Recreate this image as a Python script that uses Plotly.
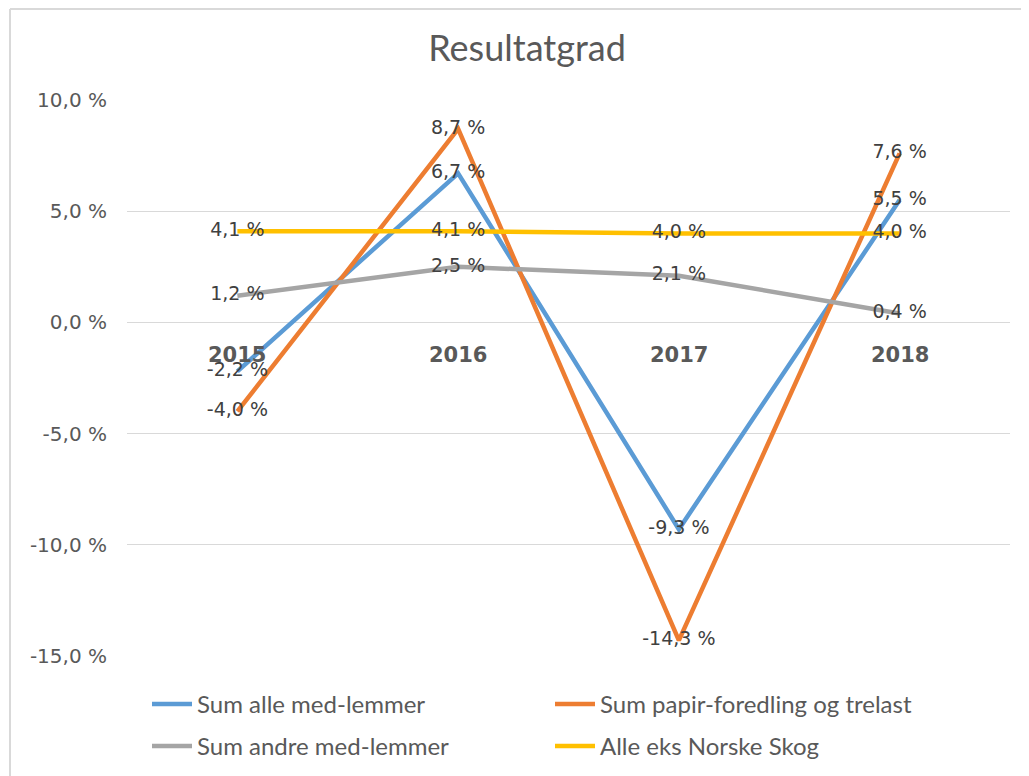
import plotly.graph_objects as go

years = ["2015", "2016", "2017", "2018"]
sum_alle = [-2.2, 6.7, -9.3, 5.5]
sum_papir = [-4.0, 8.7, -14.3, 7.6]
sum_andre = [1.2, 2.5, 2.1, 0.4]
alle_eks = [4.1, 4.1, 4.0, 4.0]
y_ticks = [-15, -10, -5, 0, 5, 10]
y_ticktext = ["-15,0 %", "-10,0 %", "-5,0 %", "0,0 %", "5,0 %", "10,0 %"]

series = [
    ("Sum alle med-lemmer", sum_alle, "#5B9BD5", "legend"),
    ("Sum papir-foredling og trelast", sum_papir, "#ED7D31", "legend"),
    ("Sum andre med-lemmer", sum_andre, "#A5A5A5", "legend2"),
    ("Alle eks Norske Skog", alle_eks, "#FFC000", "legend2"),
]

# page is rendered with an 8px body offset; figure coords = page coords - 8
W, H = 1029, 776
L, R, T, B = 119, 27, 92, 128
pw, ph = W - L - R, H - T - B

fig = go.Figure()
for name, vals, col, lg in series:
    fig.add_trace(go.Scatter(x=years, y=vals, mode="lines", name=name, legend=lg,
                             line=dict(color=col, width=4.5)))
for name, vals, col, lg in series:
    labels = [("%.1f %%" % v).replace(".", ",") for v in vals]
    fig.add_trace(go.Scatter(x=years, y=vals, mode="text", showlegend=False,
                             text=labels, textposition="middle center",
                             textfont=dict(family="DejaVu Sans", size=19, color="#404040"),
                             hoverinfo="skip"))

for i, yr in enumerate(years):
    fig.add_annotation(x=i, y=0, xref="x", yref="y", text="<b>" + yr + "</b>",
                       showarrow=False, yanchor="middle", yshift=-33,
                       font=dict(family="DejaVu Sans", size=21, color="#595959"))

# outer chart frame (left and top edges)
fy_top = 1 + (T - 1) / ph
fy_bot = -(H + 20 - T - ph) / ph
fx_left = (2 - L) / pw
fig.add_shape(type="line", xref="paper", yref="paper",
              x0=fx_left, x1=fx_left, y0=fy_bot, y1=fy_top,
              line=dict(color="#D9D9D9", width=2))
fig.add_shape(type="line", xref="paper", yref="paper",
              x0=fx_left, x1=(W + 20 - L) / pw, y0=fy_top, y1=fy_top,
              line=dict(color="#D9D9D9", width=2))

leg_common = dict(orientation="h", xanchor="left", yanchor="top",
                  entrywidth=348, entrywidthmode="pixels", traceorder="normal",
                  font=dict(family="Lato", size=24, color="#595959"),
                  itemwidth=40, bgcolor="rgba(0,0,0,0)")

fig.update_layout(
    width=W, height=H,
    margin=dict(l=L, r=R, t=T, b=B, autoexpand=False),
    paper_bgcolor="white", plot_bgcolor="white",
    title=dict(text="Resultatgrad", x=519 / W, xanchor="center", y=1 - 40 / H, yanchor="middle",
               font=dict(family="Lato", size=36, color="#595959")),
    xaxis=dict(type="category", showticklabels=False, showgrid=False, zeroline=False,
               showline=False, ticks="", range=[-0.5, 3.5]),
    yaxis=dict(range=[-15, 10], tickvals=y_ticks, ticktext=y_ticktext,
               showgrid=True, gridcolor="#D9D9D9", gridwidth=1, zeroline=True,
               zerolinecolor="#D9D9D9", zerolinewidth=1, showline=False, ticks="",
               ticklabelstandoff=19,
               tickfont=dict(family="DejaVu Sans", size=20, color="#595959")),
    legend=dict(x=20 / pw, y=-(674 - (T + ph)) / ph, **leg_common),
    legend2=dict(x=20 / pw, y=-(716 - (T + ph)) / ph, **leg_common),
    showlegend=True,
)

fig.write_html("out.html")
